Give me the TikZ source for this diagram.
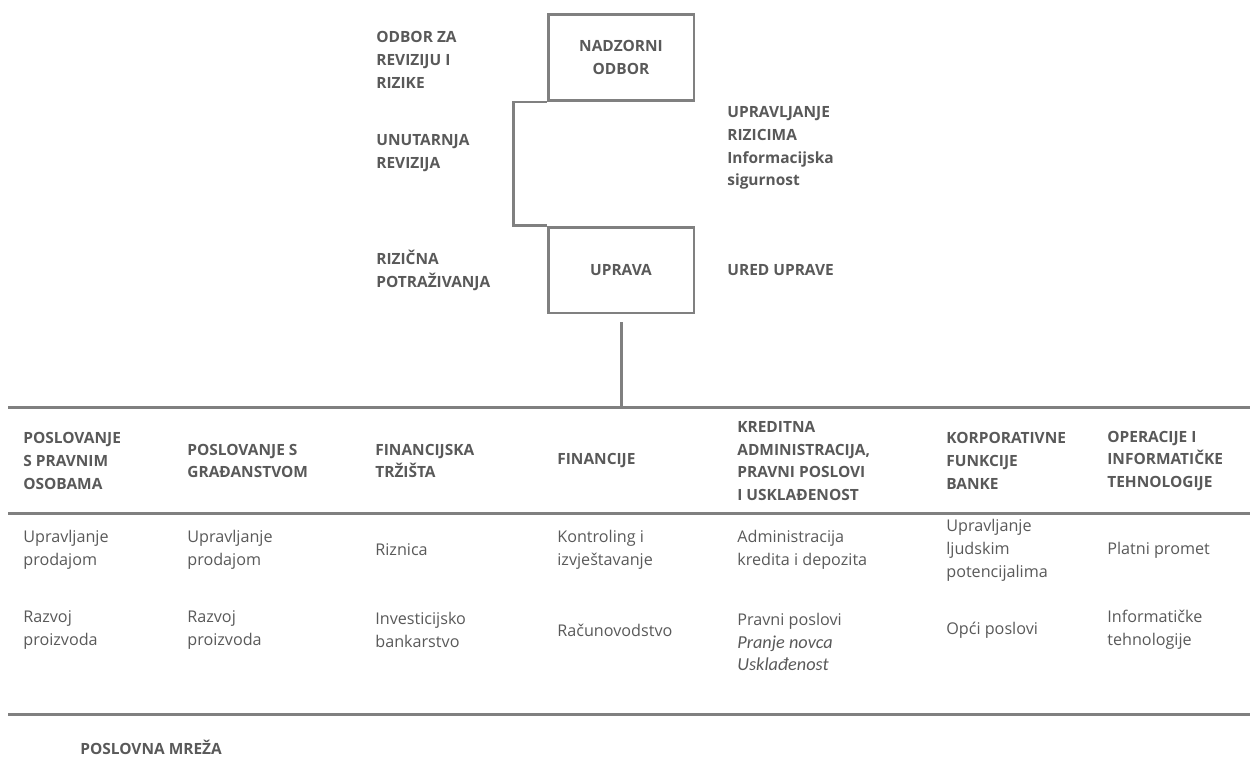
\documentclass[tikz,border=0pt]{standalone}
\usepackage{fontspec}
\setmainfont{Open Sans}
\newfontfamily\calfont{Carlito}
\definecolor{txtgray}{HTML}{595959}
\definecolor{linegray}{HTML}{808080}
\begin{document}
\begin{tikzpicture}[
    x=0.02cm, y=-0.02cm,
    orgbox/.style={rectangle, draw=linegray, line width=1.7pt, minimum width=2.92cm,
                   minimum height=1.72cm, align=center, font=\fontsize{8.8}{13}\selectfont\bfseries,
                   text=txtgray},
    unit/.style={anchor=west, inner sep=0pt, align=left, text=txtgray,
                 font=\fontsize{8.8}{13}\selectfont\bfseries},
    item/.style={anchor=west, inner sep=0pt, align=left, text=txtgray,
                 font=\fontsize{9.2}{13}\selectfont},
    rule/.style={draw=linegray, line width=1.7pt}
]
    \useasboundingbox (0,0) rectangle (1250,772);

    % upper part
    \node[orgbox] (nadzor) at (621,57.5) {NADZORNI\\ODBOR};
    \node[orgbox] (uprava) at (621,270) {UPRAVA};
    \draw[rule] (nadzor.south west) -- ++(-33,0) |- (uprava.north west);

    \node[unit] (odbor) at (376,60) {ODBOR ZA\\REVIZIJU I\\RIZIKE};
    \node[unit] (revizija) at (376,153) {UNUTARNJA\\REVIZIJA};
    \node[unit] (rizicna) at (376,270) {RIZIČNA\\POTRAŽIVANJA};
    \node[unit] (rizici) at (727,148) {UPRAVLJANJE\\RIZICIMA\\Informacijska\\sigurnost};
    \node[unit] (ured) at (727,270) {URED UPRAVE};

    % rules
    \coordinate (r1w) at (8,407);   \coordinate (r1e) at (1250,407);
    \coordinate (r2w) at (8,513);   \coordinate (r2e) at (1250,513);
    \coordinate (r3w) at (8,714);   \coordinate (r3e) at (1250,714);
    \draw[rule] (r1w) -- (r1e);
    \draw[rule] (r2w) -- (r2e);
    \draw[rule] (r3w) -- (r3e);
    \draw[rule] ([yshift=-0.16cm]uprava.south) -- (uprava.south |- r1w);

    % business units
    \node[unit] (pravne) at (23,461) {POSLOVANJE\\S PRAVNIM\\OSOBAMA};
    \node[unit] (gradjani) at (187,461) {POSLOVANJE S\\GRAĐANSTVOM};
    \node[unit] (trzista) at (375,461) {FINANCIJSKA\\TRŽIŠTA};
    \node[unit] (financije) at (557,461) {FINANCIJE};
    \node[unit] (kredit) at (737,461) {KREDITNA\\ADMINISTRACIJA,\\PRAVNI POSLOVI\\I USKLAĐENOST};
    \node[unit] (korp) at (946,461) {KORPORATIVNE\\FUNKCIJE\\BANKE};
    \node[unit] (operacije) at (1107,461) {OPERACIJE I\\INFORMATIČKE\\TEHNOLOGIJE};

    % first row of functions
    \node[item] (prodaja1) at (23,550) {Upravljanje\\prodajom};
    \node[item] (prodaja2) at (187,550) {Upravljanje\\prodajom};
    \node[item] (riznica) at (375,550) {Riznica};
    \node[item] (kontroling) at (557,550) {Kontroling i\\izvještavanje};
    \node[item] (admin) at (737,550) {Administracija\\kredita i depozita};
    \node[item] (ljudi) at (946,550) {Upravljanje\\ljudskim\\potencijalima};
    \node[item] (platni) at (1107,550) {Platni promet};

    % second row of functions
    \node[item] (razvoj1) at (23,630) {Razvoj\\proizvoda};
    \node[item] (razvoj2) at (187,630) {Razvoj\\proizvoda};
    \node[item] (invest) at (375,630) {Investicijsko\\bankarstvo};
    \node[item] (racun) at (557,630) {Računovodstvo};
    \node[item] (pravni) at (737,642) {Pravni poslovi\\{\calfont\itshape\fontsize{10.4}{13}\selectfont Pranje novca}\\{\calfont\itshape\fontsize{10.4}{13}\selectfont Usklađenost}};
    \node[item] (opci) at (946,630) {Opći poslovi};
    \node[item] (it) at (1107,630) {Informatičke\\tehnologije};

    \node[unit] (mreza) at (80,747) {POSLOVNA MREŽA};
\end{tikzpicture}
\end{document}
